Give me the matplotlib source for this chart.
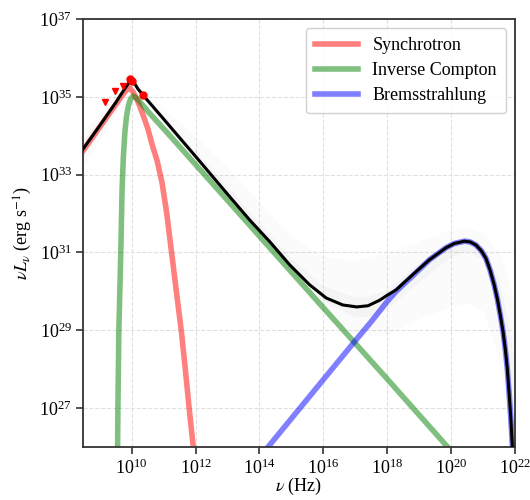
import numpy as np
import matplotlib
matplotlib.use("Agg")
import matplotlib.pyplot as plt
from matplotlib.ticker import FixedLocator, NullLocator

plt.rcParams['font.family'] = ['Liberation Serif', 'DejaVu Serif']
plt.rcParams['mathtext.fontset'] = 'stix'
plt.rcParams['font.size'] = 13

# ---- data (log10 nu [Hz], log10 nuL_nu [erg/s]) ----
total_lognu = [8.30, 8.48, 9.01, 9.50, 9.80, 9.93, 10.00, 10.10, 10.20, 10.36,
               11.00, 12.00, 13.00, 13.70, 14.32, 14.95, 15.57, 16.09, 16.61,
               17.05, 17.40, 17.76, 18.00, 18.28, 18.80, 19.32, 19.84, 20.10,
               20.42, 20.60, 20.78, 20.95, 21.09, 21.22, 21.35, 21.45, 21.55,
               21.63, 21.70, 21.76, 21.82, 21.87, 21.92, 21.96]
total_loglum = [33.45, 33.66, 34.27, 34.85, 35.23, 35.38, 35.46, 35.33, 35.20, 35.04,
                34.43, 33.47, 32.50, 31.83, 31.28, 30.68, 30.17, 29.83, 29.65,
                29.60, 29.63, 29.77, 29.90, 30.04, 30.43, 30.81, 31.12, 31.23,
                31.29, 31.27, 31.19, 31.04, 30.85, 30.55, 30.17, 29.80, 29.35,
                28.95, 28.50, 28.02, 27.35, 26.75, 26.00, 25.30]

sync_lognu = [8.30, 8.48, 9.00, 9.50, 9.70, 9.80, 9.87, 9.93, 10.05, 10.20,
              10.35, 10.50, 10.65, 10.80, 10.95, 11.10, 11.25, 11.40, 11.56,
              11.68, 11.80, 11.93, 12.00]
sync_loglum = [33.40, 33.62, 34.22, 34.80, 35.03, 35.14, 35.20, 35.23, 35.12, 34.87,
               34.55, 34.20, 33.75, 33.35, 32.80, 32.00, 31.00, 30.00, 28.95,
               28.00, 27.00, 26.00, 25.30]

ic_lognu = [9.555, 9.56, 9.57, 9.60, 9.66, 9.70, 9.74, 9.79, 9.84, 9.90, 9.97,
            10.05, 10.15, 10.30, 10.57, 11.09, 12.00, 14.00, 16.00, 18.00,
            20.00, 20.10]
ic_loglum = [25.50, 26.00, 27.00, 29.00, 31.00, 32.60, 33.45, 34.10, 34.50, 34.78, 34.95,
             35.02, 34.97, 34.83, 34.57, 34.10, 33.26, 31.42, 29.58, 27.75,
             25.90, 25.80]

brems_lognu = [14.00, 14.27, 15.00, 16.00, 17.00, 17.50, 18.00, 18.28, 18.80,
               19.32, 19.84, 20.10, 20.42, 20.60, 20.78, 20.95, 21.09, 21.22,
               21.35, 21.45, 21.55, 21.63, 21.70, 21.76, 21.82, 21.87, 21.92, 21.96]
brems_loglum = [25.73, 26.00, 26.73, 27.73, 28.73, 29.22, 29.74, 30.00, 30.40,
                30.81, 31.12, 31.23, 31.29, 31.27, 31.19, 31.04, 30.85, 30.55,
                30.17, 29.80, 29.35, 28.95, 28.50, 28.02, 27.35, 26.75, 26.00, 25.30]

# posterior spread envelopes (log10)
band_lognu = [8.48, 9.00, 9.50, 9.90, 10.00, 10.40, 11.00, 12.00, 13.00, 14.00,
              15.00, 16.00, 17.00, 17.50, 18.00, 19.00, 20.00, 20.50, 21.00,
              21.50, 21.80, 22.00]
band_outer_low = [33.20, 33.90, 34.60, 35.10, 35.30, 34.90, 34.25, 33.25, 32.30, 31.30,
                  30.30, 29.40, 28.90, 28.85, 28.90, 29.30, 29.60, 29.70, 29.50,
                  28.30, 26.50, 25.00]
band_outer_high = [34.10, 34.60, 35.10, 35.50, 35.55, 35.20, 34.70, 34.00, 33.20, 32.30,
                   31.40, 30.90, 30.80, 30.90, 31.00, 31.30, 31.60, 31.65, 31.50,
                   31.00, 30.30, 29.50]
band_inner_low = [33.45, 34.10, 34.72, 35.22, 35.38, 35.00, 34.35, 33.38, 32.42, 31.50,
                  30.55, 29.75, 29.35, 29.35, 29.55, 30.25, 30.90, 31.05, 30.80,
                  29.60, 27.50, 25.50]
band_inner_high = [33.88, 34.42, 34.98, 35.40, 35.50, 35.10, 34.52, 33.60, 32.70, 31.75,
                   30.85, 30.15, 29.85, 29.90, 30.05, 30.75, 31.25, 31.38, 31.15,
                   30.30, 29.20, 28.00]

ul_lognu = [9.166, 9.478, 9.72]
ul_loglum = [34.875, 35.16, 35.28]
det_lognu = [9.95, 10.02, 10.36]
det_loglum = [35.45, 35.40, 35.04]

xticks_exp = [10, 12, 14, 16, 18, 20, 22]
yticks_exp = [27, 29, 31, 33, 35, 37]


def p(a):
    return 10.0 ** np.asarray(a, dtype=float)


fig = plt.figure(figsize=(5.3, 5.0), dpi=100)
ax = fig.add_axes([0.1566, 0.106, 0.815, 0.856])

ax.fill_between(p(band_lognu), p(band_outer_low), p(band_outer_high),
                color='gray', alpha=0.028, lw=0, zorder=1)
ax.fill_between(p(band_lognu), p(band_inner_low), p(band_inner_high),
                color='gray', alpha=0.05, lw=0, zorder=1)

ax.plot(p(sync_lognu), p(sync_loglum), color='red', alpha=0.5, lw=4,
        label='Synchrotron', zorder=2)
ax.plot(p(ic_lognu), p(ic_loglum), color='green', alpha=0.5, lw=4,
        label='Inverse Compton', zorder=2)
ax.plot(p(brems_lognu), p(brems_loglum), color='blue', alpha=0.5, lw=4,
        label='Bremsstrahlung', zorder=2)
ax.plot(p(total_lognu), p(total_loglum), color='black', lw=2.2, zorder=3)

ax.plot(p(ul_lognu), p(ul_loglum), ls='none', marker='v', color='red',
        ms=5, zorder=4)
ax.plot(p(det_lognu), p(det_loglum), ls='none', marker='o', color='red',
        ms=5, zorder=4)

ax.set_xscale('log')
ax.set_yscale('log')
ax.set_xlim(3e8, 1e22)
ax.set_ylim(1e26, 1e37)
ax.xaxis.set_major_locator(FixedLocator([10.0 ** e for e in xticks_exp]))
ax.yaxis.set_major_locator(FixedLocator([10.0 ** e for e in yticks_exp]))
ax.xaxis.set_minor_locator(NullLocator())
ax.yaxis.set_minor_locator(NullLocator())

ax.grid(True, ls='--', color='0.88', lw=0.8, zorder=0)
ax.set_axisbelow(True)
for s in ax.spines.values():
    s.set_color('0.2')
    s.set_linewidth(1.3)
ax.tick_params(direction='out', length=5, width=1.2, color='0.2',
               labelsize=13, pad=3)

ax.set_xlabel(r'$\nu$ (Hz)', fontsize=13, labelpad=-1)
ax.set_ylabel(r'$\nu L_\nu$ (erg s$^{-1}$)', fontsize=13, labelpad=4)

leg = ax.legend(loc='upper right', fontsize=13, handlelength=2.4,
                framealpha=0.9, edgecolor='0.8', borderpad=0.5,
                labelspacing=0.45)

fig.savefig('out.png', dpi=100)
